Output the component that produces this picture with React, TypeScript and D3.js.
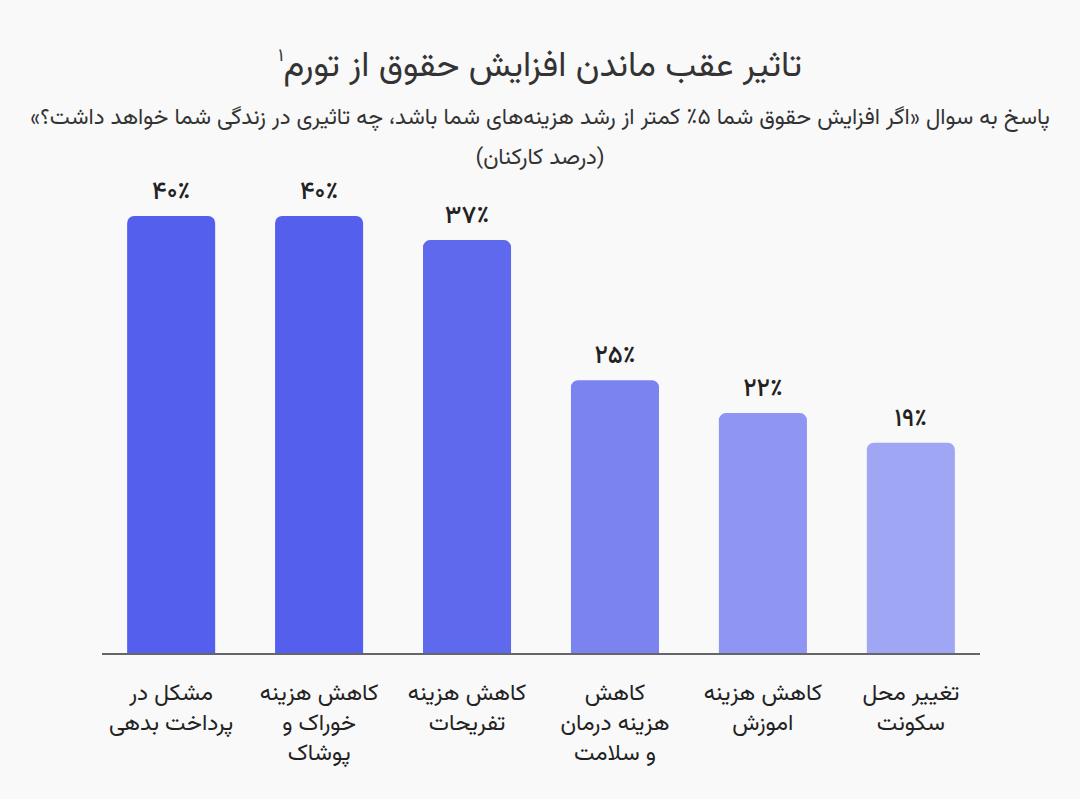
import React from "react";
import * as d3 from "d3";

// chart data
const categories = [
  ["مشکل در", "پرداخت بدهی"],
  ["کاهش هزینه", "خوراک و", "پوشاک"],
  ["کاهش هزینه", "تفریحات"],
  ["کاهش", "هزینه درمان", "و سلامت"],
  ["کاهش هزینه", "اموزش"],
  ["تغییر محل", "سکونت"],
];
const values = [40, 40, 37.8, 25, 22, 19.3];
const valueLabels = ["۴۰٪", "۴۰٪", "۳۷٪", "۲۵٪", "۲۲٪", "۱۹٪"];

const title = "تاثیر عقب ماندن افزایش حقوق از تورم";
const titleNote = "۱";
const subtitle = "پاسخ به سوال «اگر افزایش حقوق شما ۵٪ کمتر از رشد هزینه‌های شما باشد، چه تاثیری در زندگی شما خواهد داشت؟»";
const subtitle2 = "(درصد کارکنان)";

const barColors = ["#545fee", "#545fee", "#5f69ee", "#7a83f0", "#8e95f2", "#9fa6f4"];

const W = 1080;
const H = 799;
const FONT = "Vazirmatn, 'Noto Sans Arabic', 'DejaVu Sans', sans-serif";

export default function App() {
  const x = d3
    .scaleBand<number>()
    .domain(d3.range(values.length))
    .range([102, 980])
    .paddingInner(0.405)
    .paddingOuter(0.17);

  const y = d3.scaleLinear().domain([0, 40]).range([654, 216]);

  // bar with rounded top corners only
  const barPath = (x0: number, y0: number, w: number, h: number, r: number) => {
    const p = d3.path();
    p.moveTo(x0, y0 + h);
    p.lineTo(x0, y0 + r);
    p.arcTo(x0, y0, x0 + r, y0, r);
    p.lineTo(x0 + w - r, y0);
    p.arcTo(x0 + w, y0, x0 + w, y0 + r, r);
    p.lineTo(x0 + w, y0 + h);
    p.closePath();
    return p.toString();
  };

  return (
    <div style={{ position: "absolute", left: 0, top: 0 }}>
      <svg width={W} height={H} style={{ display: "block", background: "#f9f9f9" }} fontFamily={FONT}>
        <text x={W / 2} y={76} textAnchor="middle" direction="rtl" fontSize={35} fill="#333">
          {title}
          <tspan fontSize={18} dy={-15}>{titleNote}</tspan>
        </text>
        <text x={W / 2} y={124} textAnchor="middle" direction="rtl" fontSize={22.5} fill="#333">
          {subtitle}
        </text>
        <text x={W / 2} y={164} textAnchor="middle" direction="rtl" fontSize={22.5} fill="#333">
          {subtitle2}
        </text>

        {values.map((v, i) => {
          const cx = x(i)! + x.bandwidth() / 2;
          return (
            <g key={i}>
              <path
                d={barPath(x(i)!, y(v), x.bandwidth(), y(0) - y(v), 7)}
                fill={barColors[i]}
              />
              <text
                x={cx}
                y={y(v) - 17}
                textAnchor="middle"
                direction="rtl"
                fontSize={25}
                fontWeight={500}
                fill="#222"
              >
                {valueLabels[i]}
              </text>
              {/* wrapped category label, one text element per bar */}
              <text y={700} textAnchor="middle" direction="rtl" fontSize={23} fill="#222">
                {categories[i].map((line, j) => (
                  <tspan key={j} x={cx} dy={j === 0 ? 0 : 30}>
                    {line}
                  </tspan>
                ))}
              </text>
            </g>
          );
        })}

        <line x1={102} x2={980} y1={y(0)} y2={y(0)} stroke="#666" strokeWidth={2} />
      </svg>
    </div>
  );
}
